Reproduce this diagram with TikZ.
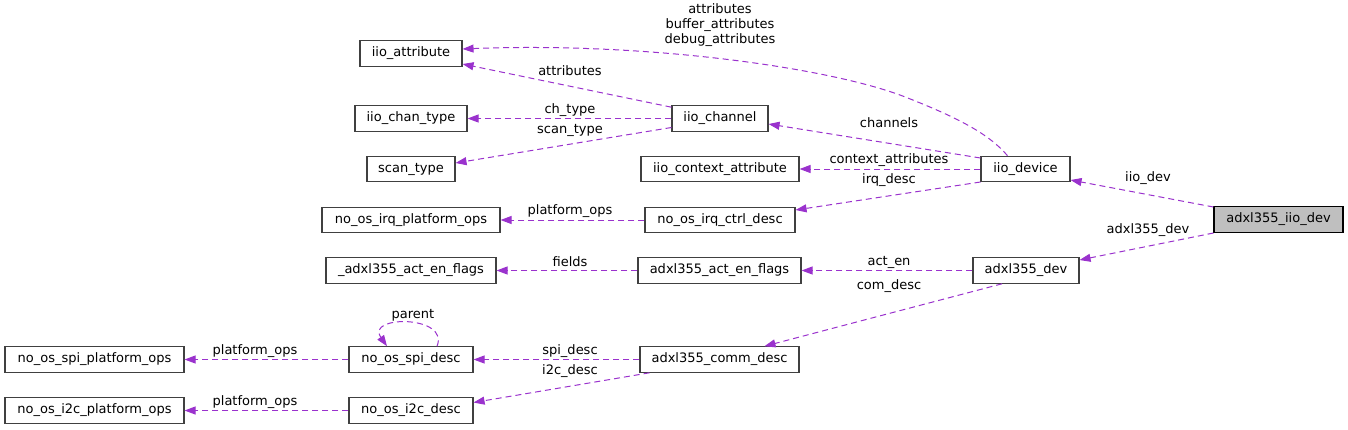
\documentclass[tikz,border=0pt]{standalone}
\usepackage{fontspec}
\setmainfont{DejaVu Sans}
\usetikzlibrary{arrows.meta}
\definecolor{edgec}{HTML}{9A32CD}
\definecolor{boxc}{HTML}{404040}
\definecolor{rootc}{HTML}{BFBFBF}
\tikzset{
  cls/.style={draw=boxc, line width=1.1pt, fill=white, inner sep=0pt, minimum height=25.5pt, font=\fontsize{13}{15}\selectfont},
  root/.style={cls, draw=black, fill=rootc},
  rel/.style={draw=edgec, line width=1pt, dash pattern=on 6pt off 4pt, -{Triangle[length=11pt,width=8pt]}},
  lbl/.style={font=\fontsize{13}{15}\selectfont, inner sep=0pt, align=center}
}
\begin{document}
\begin{tikzpicture}[x=1pt,y=-1pt]
\useasboundingbox (0,0) rectangle (1348,429);
% nodes
\node[cls, minimum width=102pt] (attr) at (411,53.5) {iio\_attribute};
\node[cls, minimum width=112pt] (chtype) at (411,118.5) {iio\_chan\_type};
\node[cls, minimum width=88pt] (scan) at (411,169) {scan\_type};
\node[cls, minimum width=96pt] (chan) at (720,118.5) {iio\_channel};
\node[cls, minimum width=158pt] (ctx) at (720,169) {iio\_context\_attribute};
\node[cls, minimum width=89pt] (dev) at (1025.5,169) {iio\_device};
\node[root, minimum width=129pt] (rootn) at (1278.5,219.5) {adxl355\_iio\_dev};
\node[cls, minimum width=178pt] (irqops) at (411,220) {no\_os\_irq\_platform\_ops};
\node[cls, minimum width=150pt] (irq) at (720,220) {no\_os\_irq\_ctrl\_desc};
\node[cls, minimum width=170pt] (uflags) at (411,270.5) {\_adxl355\_act\_en\_flags};
\node[cls, minimum width=163pt] (flags) at (719.5,270.5) {adxl355\_act\_en\_flags};
\node[cls, minimum width=106pt] (adev) at (1026,270.5) {adxl355\_dev};
\node[cls, minimum width=179pt] (spiops) at (94.5,359.5) {no\_os\_spi\_platform\_ops};
\node[cls, minimum width=124pt] (spi) at (411,359.5) {no\_os\_spi\_desc};
\node[cls, minimum width=159pt] (comm) at (719.5,359.5) {adxl355\_comm\_desc};
\node[cls, minimum width=179pt] (i2cops) at (94.5,410.5) {no\_os\_i2c\_platform\_ops};
\node[cls, minimum width=124pt] (i2c) at (411,410.5) {no\_os\_i2c\_desc};
% edges
\draw[rel] ([xshift=-18pt]dev.north) .. controls (990,135) and (960,118) .. (900,95) .. controls (820,66) and (640,42) .. ([yshift=4.5pt]attr.east);
\draw[rel] ([yshift=-2pt]chan.north west) -- ([yshift=-10.5pt]attr.east);
\draw[rel] (chan.west) -- (chtype.east);
\draw[rel] ([yshift=-9pt]chan.west) -- ([yshift=6pt]scan.east);
\draw[rel] ([yshift=11pt]dev.west) -- ([yshift=-5.5pt]chan.east);
\draw[rel] (dev.west) -- (ctx.east);
\draw[rel] ([yshift=-13pt]dev.west) -- ([yshift=10pt]irq.east);
\draw[rel] ([yshift=12.5pt]rootn.west) -- ([yshift=-11pt]dev.east);
\draw[rel] ([yshift=-13.5pt]rootn.west) -- ([yshift=10.5pt]adev.east);
\draw[rel] (irq.west) -- (irqops.east);
\draw[rel] (flags.west) -- (uflags.east);
\draw[rel] (adev.west) -- (flags.east);
\draw[rel] ([xshift=-24pt]adev.south) -- ([xshift=45pt]comm.north);
\draw[rel] (comm.west) -- (spi.east);
\draw[rel] ([xshift=-70pt]comm.south) -- ([yshift=8pt]i2c.east);
\draw[rel] (spi.west) -- (spiops.east);
\draw[rel] (i2c.west) -- (i2cops.east);
\draw[rel] ([xshift=26pt]spi.north) .. controls (450,315) and (365,315) .. ([xshift=-24pt]spi.north);
% labels
\node[lbl] (l1) at (720,25) {attributes\\buffer\_attributes\\debug\_attributes};
\node[lbl] (l2) at (570,71) {attributes};
\node[lbl] (l3) at (570,110) {ch\_type};
\node[lbl] (l4) at (570,130) {scan\_type};
\node[lbl] (l5) at (889,123) {channels};
\node[lbl] (l6) at (889,160) {context\_attributes};
\node[lbl] (l7) at (889,180) {irq\_desc};
\node[lbl] (l8) at (1148,178) {iio\_dev};
\node[lbl] (l9) at (1148,230) {adxl355\_dev};
\node[lbl] (l10) at (570,211) {platform\_ops};
\node[lbl] (l11) at (570,262) {fields};
\node[lbl] (l12) at (889,262) {act\_en};
\node[lbl] (l13) at (889,286) {com\_desc};
\node[lbl] (l14) at (570,351) {spi\_desc};
\node[lbl] (l15) at (570,371) {i2c\_desc};
\node[lbl] (l16) at (255,351) {platform\_ops};
\node[lbl] (l17) at (255,402) {platform\_ops};
\node[lbl] (l18) at (413,315) {parent};
\end{tikzpicture}
\end{document}
